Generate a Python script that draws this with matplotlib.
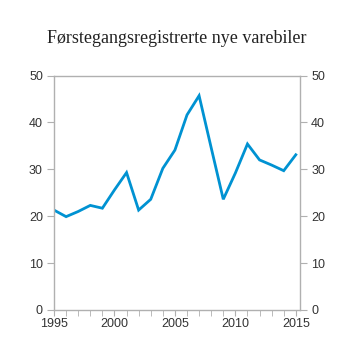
import matplotlib
matplotlib.use("Agg")
import matplotlib.pyplot as plt
from matplotlib.ticker import MultipleLocator

years = list(range(1995, 2016))
values = [21.3, 19.9, 21.0, 22.3, 21.7, 25.6, 29.3, 21.3, 23.6, 30.2, 34.1,
          41.6, 45.7, 34.6, 23.6, 29.2, 35.4, 32.0, 30.9, 29.7, 33.1]
xticks = [1995, 2000, 2005, 2010, 2015]
yticks = [0, 10, 20, 30, 40, 50]

grey = "#b0b0b0"
txt = "#333333"

fig = plt.figure(figsize=(3.53, 3.53), dpi=100)
ax = fig.add_axes([0.153, 0.122, 0.697, 0.664])
ax.plot(years, values, color="#0092d2", linewidth=2.0, solid_joinstyle="miter")

ax.set_xlim(1995, 2015.35)
ax.set_ylim(0, 50)
ax.set_xticks(xticks)
ax.xaxis.set_minor_locator(MultipleLocator(1))
ax.set_yticks(yticks)

for s in ax.spines.values():
    s.set_color(grey)
    s.set_linewidth(1.0)

ax.tick_params(axis="both", which="both", color=grey, labelcolor=txt,
               labelsize=9, direction="out")
ax.tick_params(axis="x", which="major", length=4, pad=2)
ax.tick_params(axis="x", which="minor", length=4)
ax.tick_params(axis="y", length=5, pad=3, right=True, labelright=True)
for lab in ax.get_xticklabels() + ax.get_yticklabels():
    lab.set_family("Liberation Sans")

fig.text(0.5, 0.892, "Førstegangsregistrerte nye varebiler", ha="center",
         va="center", fontsize=13, family="Liberation Serif", color="#222222")

fig.savefig("out.png", dpi=100)
